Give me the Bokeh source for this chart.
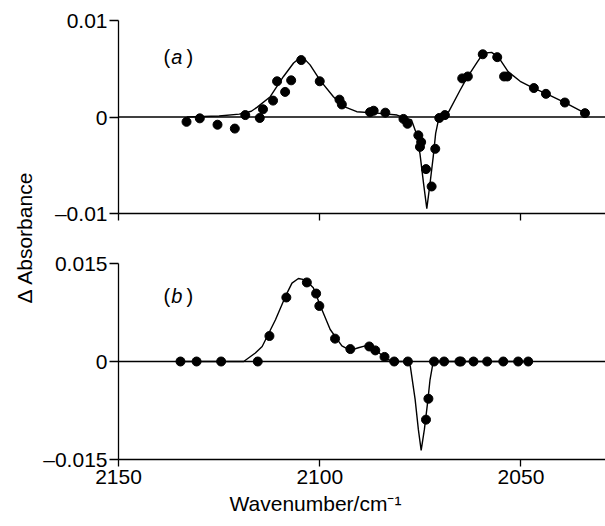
import math
from bokeh.plotting import figure
from bokeh.models import Range1d, FixedTicker, Span, Label, Title
from bokeh.layouts import row, column
from bokeh.embed import file_html
from bokeh.resources import INLINE

FONT = "Liberation Sans"

# ---------------- data ----------------
x_ticks = [2150, 2100, 2050]
x_title = "Wavenumber/cm\u207b\u00b9"
y_title = "\u0394 Absorbance"

# panel (a)
a_ticks = [-0.01, 0.0, 0.01]
a_tick_labels = ["\u20130.01", "0", "0.01"]
a_pts_x = [2133.1, 2129.8, 2125.4, 2121.1, 2118.5, 2114.9, 2114.1, 2111.6, 2110.6,
           2108.6, 2107.1, 2104.6, 2100.0, 2095.1, 2094.5, 2087.5, 2086.6, 2083.7,
           2079.2, 2078.2, 2075.5, 2074.8, 2075.1, 2073.6, 2072.2, 2071.3, 2070.3,
           2068.9, 2064.6, 2063.2, 2059.5, 2055.9, 2054.2, 2053.4, 2046.8, 2043.8,
           2039.1, 2034.1]
a_pts_y = [-0.0005, -0.00014, -0.0008, -0.0012, 0.0002, -0.0001, 0.0008, 0.0017, 0.0037,
           0.0026, 0.0038, 0.0059, 0.0037, 0.0018, 0.0013, 0.0005, 0.00065, 0.00045,
           -0.0002, -0.0007, -0.0019, -0.0026, -0.0031, -0.0054, -0.0072, -0.0033, -0.0001,
           0.0002, 0.0040, 0.0042, 0.0065, 0.0062, 0.0042, 0.0042, 0.0030, 0.0024,
           0.0015, 0.0004]
a_fit_x = [2133, 2125, 2120, 2117, 2115.6, 2112.3, 2109, 2106.5, 2105, 2104, 2102.4,
           2099.9, 2096.6, 2094.1, 2090.8, 2085.8, 2080.8, 2077.2, 2076.0, 2075.1, 2074.2,
           2073.4, 2072.6, 2071.8, 2071.2, 2070.5, 2068.4, 2065.1, 2063.5, 2061, 2059.4,
           2057.3, 2055.6, 2053.2, 2050.2, 2046.9, 2043.6, 2038.7, 2034.1]
a_fit_y = [0.0, 0.0001, 0.0003, 0.0006, 0.0010, 0.0021, 0.0042, 0.0056, 0.0061, 0.0061, 0.0054,
           0.0038, 0.0021, 0.0011, 0.00055, 0.0004, 0.0002, -0.0003, -0.0017, -0.0038, -0.0069,
           -0.0095, -0.0069, -0.0041, -0.0017, -0.0003, 0.0002, 0.0028, 0.0040, 0.0056, 0.0066,
           0.0067, 0.0062, 0.0047, 0.0037, 0.0030, 0.0024, 0.0014, 0.0004]

# panel (b)
b_ticks = [-0.015, 0.0, 0.015]
b_tick_labels = ["\u20130.015", "0", "0.015"]
b_pts_x = [2134.6, 2130.6, 2124.5, 2115.4, 2112.5, 2108.3, 2103.2, 2100.9, 2100.1,
           2096.2, 2092.4, 2087.7, 2086.2, 2083.9, 2081.5, 2078.1, 2073.6, 2073.0,
           2071.6, 2069.1, 2065.3, 2064.9, 2061.8, 2058.4, 2054.4, 2050.7, 2048.2]
b_pts_y = [0.0, 0.0, 0.0, 0.0, 0.0039, 0.0098, 0.0121, 0.0104, 0.0085,
           0.0035, 0.0019, 0.0023, 0.0017, 0.0007, 0.0, 0.0, -0.0089, -0.0057,
           0.0, 0.0, 0.0, 0.0, 0.0, 0.0, 0.0, 0.0, 0.0]
b_fit_x = [2135, 2118.9, 2116, 2114.3, 2111, 2108.5, 2106.9, 2105.3, 2103.6, 2101.6,
           2099.5, 2097.4, 2094.5, 2092.4, 2090.4, 2088.7, 2085.8, 2083.3, 2081, 2078.4,
           2077.5, 2076.3, 2075.5, 2074.8, 2074.0, 2073.2, 2072.6, 2072.0, 2071.5, 2048]
b_fit_y = [0.0, 0.0, 0.0013, 0.0023, 0.0064, 0.0100, 0.0120, 0.0127, 0.0125, 0.0113,
           0.0080, 0.0049, 0.0024, 0.0017, 0.0021, 0.0024, 0.0016, 0.0003, 0.0, 0.0,
           -0.0007, -0.0058, -0.0104, -0.0136, -0.0104, -0.0063, -0.0028, -0.0007, 0.0, 0.0]


def make_panel(height, top_border, bottom_border, yr, ticks, tick_labels,
               px, py, fx, fy, tag, tag_y, show_x_labels):
    p = figure(width=565, height=height,
               x_range=Range1d(2150, 2029), y_range=Range1d(*yr),
               output_backend="svg", toolbar_location=None,
               min_border_left=77, min_border_right=0,
               min_border_top=top_border, min_border_bottom=bottom_border)
    p.outline_line_color = None
    p.grid.visible = False
    p.background_fill_color = "white"
    p.border_fill_color = "white"

    for ax in (p.xaxis[0], p.yaxis[0]):
        ax.axis_line_color = "black"
        ax.axis_line_width = 1.3
        ax.major_tick_line_color = "black"
        ax.major_tick_line_width = 1.3
        ax.major_tick_in = 0
        ax.minor_tick_in = 0
        ax.minor_tick_out = 0
        ax.major_label_text_font = FONT
        ax.major_label_text_font_size = "21px"
        ax.major_label_text_color = "black"

    xa = p.xaxis[0]
    xa.ticker = FixedTicker(ticks=x_ticks)
    xa.major_tick_out = 7
    xa.major_label_standoff = 3
    if not show_x_labels:
        xa.major_label_overrides = {t: "" for t in x_ticks}

    ya = p.yaxis[0]
    ya.ticker = FixedTicker(ticks=ticks)
    ya.major_label_overrides = dict(zip(ticks, tick_labels))
    ya.major_tick_out = 9
    ya.major_label_standoff = 2

    p.add_layout(Span(location=0, dimension="width", line_color="black", line_width=1.3))
    p.line(fx, fy, line_color="black", line_width=1.4)
    p.scatter(px, py, size=9, marker="circle", fill_color="black", line_color="black")

    p.add_layout(Label(x=2138.8, y=tag_y, text="(", text_font=FONT, text_font_size="20px",
                       text_baseline="middle", text_align="left", text_color="black"))
    p.add_layout(Label(x=2136.9, y=tag_y, text=tag, text_font=FONT, text_font_size="20px",
                       text_font_style="italic",
                       text_baseline="middle", text_align="left", text_color="black"))
    p.add_layout(Label(x=2133.1, y=tag_y, text=")", text_font=FONT, text_font_size="20px",
                       text_baseline="middle", text_align="left", text_color="black"))
    return p


pa = make_panel(248, 20, 35, (-0.01, 0.01), a_ticks, a_tick_labels,
                a_pts_x, a_pts_y, a_fit_x, a_fit_y, "a", 0.0062, False)
pb = make_panel(276, 15, 65, (-0.015, 0.015), b_ticks, b_tick_labels,
                b_pts_x, b_pts_y, b_fit_x, b_fit_y, "b", 0.00995, True)

# x-axis title, sitting left of the frame centre as in the reference
pb.add_layout(Title(text=x_title, align="left", offset=111, standoff=7,
                    text_font=FONT, text_font_size="21px", text_font_style="normal",
                    text_color="black"), "below")

lab = figure(width=40, height=524, x_axis_type=None, y_axis_type=None,
             x_range=Range1d(0, 1), y_range=Range1d(0, 1),
             output_backend="svg", toolbar_location=None, min_border=0)
lab.outline_line_color = None
lab.grid.visible = False
lab.add_layout(Label(x=0.6, y=0.5477, text=y_title, angle=math.pi / 2,
                     text_font=FONT, text_font_size="21px", text_color="black",
                     text_align="center", text_baseline="middle"))

layout = row(lab, column(pa, pb))

open("out.html", "w").write(file_html(layout, INLINE))
